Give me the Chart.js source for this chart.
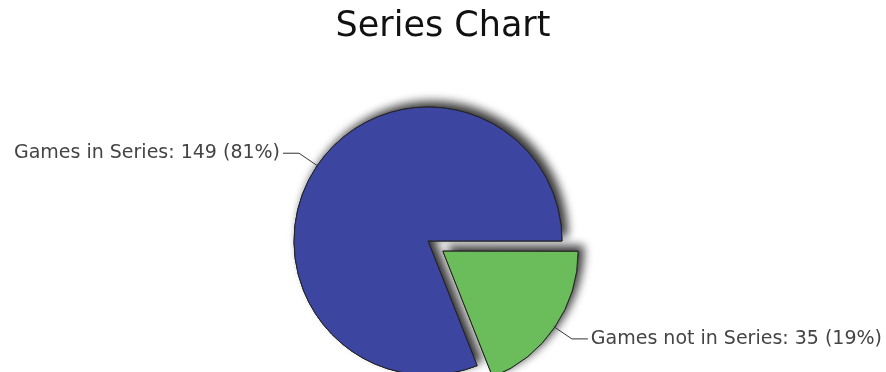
<!DOCTYPE html>
<html>
<head>
<meta charset="utf-8">
<title>Series Chart</title>
<script src="https://cdn.jsdelivr.net/npm/chart.js@4.4.1/dist/chart.umd.min.js"></script>
<style>
  html, body { margin: 0; padding: 0; background: #ffffff; }
  #wrap { width: 886px; height: 372px; position: relative; }
</style>
</head>
<body>
<div id="wrap"><canvas id="seriesChart"></canvas></div>
<script>
// Données du graphique
const categories = ['Games in Series', 'Games not in Series'];
const gameCounts = [149, 35];
const sliceColors = ['#3c45a0', '#6bbd5b'];

const FONT = '"DejaVu Sans", Verdana, sans-serif';
const total = gameCounts.reduce((a, b) => a + b, 0);

// Ombre portée : on dessine d'abord les parts avec ombre, le rendu normal passe par-dessus
const sliceShadow = {
  id: 'sliceShadow',
  beforeDatasetsDraw(chart) {
    const ctx = chart.ctx;
    const meta = chart.getDatasetMeta(0);
    ctx.save();
    ctx.shadowColor = 'rgba(0, 0, 0, 0.8)';
    ctx.shadowBlur = 10;
    ctx.shadowOffsetX = 5;
    ctx.shadowOffsetY = -5;
    meta.data.forEach(arc => arc.draw(ctx));
    ctx.restore();
  }
};

// Titre centré sur le canvas
const chartTitle = {
  id: 'chartTitle',
  afterDraw(chart) {
    const ctx = chart.ctx;
    ctx.save();
    ctx.font = '35px ' + FONT;
    ctx.fillStyle = '#111111';
    ctx.textAlign = 'center';
    ctx.textBaseline = 'middle';
    ctx.fillText('Series Chart', chart.width / 2, 27);
    ctx.restore();
  }
};

// Étiquettes avec lignes de rappel
const sliceLabels = {
  id: 'sliceLabels',
  afterDraw(chart) {
    const ctx = chart.ctx;
    const meta = chart.getDatasetMeta(0);
    ctx.save();
    ctx.font = '19px ' + FONT;
    ctx.fillStyle = '#444444';
    ctx.strokeStyle = '#333333';
    ctx.lineWidth = 1;
    ctx.textBaseline = 'middle';
    meta.data.forEach((arc, i) => {
      const mid = (arc.startAngle + arc.endAngle) / 2;
      const shift = (arc.options.offset || 0) / 4;
      const cx = arc.x + Math.cos(mid) * shift;
      const cy = arc.y + Math.sin(mid) * shift;
      const r = arc.outerRadius;
      const x0 = cx + Math.cos(mid) * r;
      const y0 = cy + Math.sin(mid) * r;
      const x1 = cx + Math.cos(mid) * (r + 22);
      const y1 = cy + Math.sin(mid) * (r + 22);
      const right = Math.cos(mid) >= 0;
      const x2 = x1 + (right ? 16 : -16);
      ctx.beginPath();
      ctx.moveTo(x0, y0);
      ctx.lineTo(x1, y1);
      ctx.lineTo(x2, y1);
      ctx.stroke();
      const pct = Math.round(gameCounts[i] / total * 100);
      const text = categories[i] + ': ' + gameCounts[i] + ' (' + pct + '%)';
      ctx.textAlign = right ? 'left' : 'right';
      ctx.fillText(text, x2 + (right ? 3 : -3), y1);
    });
    ctx.restore();
  }
};

new Chart(document.getElementById('seriesChart'), {
  type: 'pie',
  data: {
    labels: categories,
    datasets: [{
      data: gameCounts,
      backgroundColor: sliceColors,
      borderColor: '#222222',
      borderWidth: 1,
      offset: [0, 72],
      hoverOffset: 0,
      clip: false
    }]
  },
  options: {
    responsive: true,
    maintainAspectRatio: false,
    animation: false,
    radius: 134,
    rotation: 90 + 360 * gameCounts[1] / total,
    layout: {
      padding: { top: 110, right: 30, bottom: 0, left: 0 }
    },
    events: [],
    plugins: {
      legend: { display: false },
      tooltip: { enabled: false },
      title: { display: false }
    }
  },
  plugins: [sliceShadow, chartTitle, sliceLabels]
});
</script>
</body>
</html>
